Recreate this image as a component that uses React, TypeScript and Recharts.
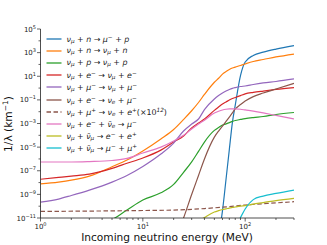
import { LineChart, Line, XAxis, YAxis, Label } from 'recharts';

// incoming neutrino energy grid (MeV)
const energy = [1, 1.5, 2, 3, 5, 7, 10, 15, 20, 25, 30, 35, 40, 50, 55, 60, 65, 70, 75, 80, 90, 100, 120, 150, 200, 300];

const n = null;
// 1/lambda (km^-1)
const nuN_muP = [n, n, n, n, n, n, n, n, n, n, n, n, n, n, 3e-13, 4e-11, 1.9e-8, 6.2e-6, 1.2e-3, 3.6e-2, 11.5, 160, 580, 1100, 2000, 3900];
const nuN_nuN = [7.6e-9, 1.1e-8, 1.6e-8, 3.5e-8, 2.2e-7, 8e-7, 4.7e-6, 4.9e-5, 3.1e-4, 2.2e-3, 1.2e-2, 6e-2, 0.29, 3.1, 6.8, 15, 25, 37, 50, 60, 81, 110, 178, 260, 430, 760];
const nuP_nuP = [n, n, n, 5e-13, 7e-12, 4.7e-11, 3.3e-10, 1.35e-9, 7e-9, 7.4e-8, 5.6e-7, 4.4e-6, 2.7e-5, 2.6e-4, 4.6e-4, 7.4e-4, 9.3e-4, 1.2e-3, 1.5e-3, 1.8e-3, 2.2e-3, 2.6e-3, 3.2e-3, 3.9e-3, 5.8e-3, 8.5e-3];
const nuE_nuE = [1.9e-8, 2.7e-8, 3.5e-8, 5.2e-8, 1.6e-7, 4.3e-7, 1.2e-6, 5.6e-6, 2.7e-5, 8.7e-5, 4.2e-4, 1.1e-3, 2.4e-3, 1.3e-2, 2.5e-2, 4.5e-2, 6.6e-2, 9.8e-2, 0.13, 0.16, 0.23, 0.32, 0.43, 0.56, 0.76, 1.1];
const nuMu_nuMu = [2.2e-10, 4e-10, 8e-10, 2.3e-9, 1.1e-8, 4e-8, 2.3e-7, 2.6e-6, 2.2e-5, 2.3e-4, 9e-4, 2.4e-3, 1.5e-2, 0.12, 0.23, 0.38, 0.56, 0.76, 0.95, 1.1, 1.35, 1.5, 2.0, 2.7, 3.6, 5.9];
const nuE_nueMu = [n, n, n, n, n, n, n, n, 8e-14, 1e-11, 9.7e-10, 4e-8, 1e-6, 7e-5, 2.3e-4, 6e-4, 1.5e-3, 3.5e-3, 7.8e-3, 1.7e-2, 4e-2, 8e-2, 0.19, 0.38, 0.83, 2.5];
const nuMuPlus_nueE = [3.6e-11, n, n, n, n, n, 4.3e-11, n, 4.7e-11, n, n, n, 6.3e-11, n, n, n, n, 9.3e-11, n, n, n, 1.26e-10, n, n, 1.9e-10, 2.4e-10];
const nuEnuebar_mu = [5.5e-7, 5.5e-7, 5.5e-7, 6e-7, 7.4e-7, 1.1e-6, 3.2e-6, 1e-5, 3.3e-5, 1e-4, 3.4e-4, 9e-4, 1.9e-3, 7.8e-3, 1.1e-2, 1.4e-2, 1.6e-2, 1.7e-2, 1.7e-2, 1.7e-2, 1.6e-2, 1.4e-2, 1.1e-2, 7.8e-3, 4.8e-3, 2.4e-3];
const nuNubar_ee = [n, n, n, n, n, n, n, n, n, n, n, 5.5e-12, 1.1e-11, 3.2e-11, 4.2e-11, 5.2e-11, 6e-11, 6.9e-11, 7.7e-11, 8.5e-11, 1e-10, 1.1e-10, 1.5e-10, 2e-10, 3e-10, 4.6e-10];
const nuNubar_mumu = [n, n, n, n, n, n, n, n, n, n, n, n, n, n, n, n, n, n, n, 1.7e-12, 1.1e-11, 5.8e-11, 3.6e-10, 7.2e-10, 1.2e-9, 2.3e-9];

const xTicks = [1, 2, 3, 4, 5, 6, 7, 8, 9, 10, 20, 30, 40, 50, 60, 70, 80, 90, 100, 200, 300];
const xMajor = [1, 10, 100];
const yTicks = [1e5, 1e4, 1e3, 1e2, 1e1, 1, 1e-1, 1e-2, 1e-3, 1e-4, 1e-5, 1e-6, 1e-7, 1e-8, 1e-9, 1e-10, 1e-11];

const Sub = ({ c }: { c: string }) => <span style={{ fontSize: '0.72em', verticalAlign: '-0.25em', fontStyle: 'italic' }}>{c}</span>;
const Sup = ({ c }: { c: string }) => <span style={{ fontSize: '0.72em', verticalAlign: '0.45em', fontStyle: 'italic' }}>{c}</span>;
const I = ({ c }: { c: string }) => <i>{c}</i>;
const Nu = ({ f, bar }: { f: string; bar?: boolean }) => <><i>{bar ? 'ν\u0304' : 'ν'}</i><Sub c={f} /></>;

const series = [
  { key: 's0', values: nuN_muP, color: '#1f77b4', label: <><Nu f="μ" /> + <I c="n" /> → <I c="μ" /><Sup c="−" /> + <I c="p" /></> },
  { key: 's1', values: nuN_nuN, color: '#ff7f0e', label: <><Nu f="μ" /> + <I c="n" /> → <Nu f="μ" /> + <I c="n" /></> },
  { key: 's2', values: nuP_nuP, color: '#2ca02c', label: <><Nu f="μ" /> + <I c="p" /> → <Nu f="μ" /> + <I c="p" /></> },
  { key: 's3', values: nuE_nuE, color: '#d62728', label: <><Nu f="μ" /> + <I c="e" /><Sup c="−" /> → <Nu f="μ" /> + <I c="e" /><Sup c="−" /></> },
  { key: 's4', values: nuMu_nuMu, color: '#9467bd', label: <><Nu f="μ" /> + <I c="μ" /><Sup c="−" /> → <Nu f="μ" /> + <I c="μ" /><Sup c="−" /></> },
  { key: 's5', values: nuE_nueMu, color: '#8c564b', label: <><Nu f="μ" /> + <I c="e" /><Sup c="−" /> → <Nu f="e" /> + <I c="μ" /><Sup c="−" /></> },
  { key: 's6', values: nuMuPlus_nueE, color: '#8c564b', dash: '4.5 2.5', label: <><Nu f="μ" /> + <I c="μ" /><Sup c="+" /> → <Nu f="e" /> + <I c="e" /><Sup c="+" />(×10<Sup c="12" />)</> },
  { key: 's7', values: nuEnuebar_mu, color: '#e377c2', label: <><Nu f="μ" /> + <I c="e" /><Sup c="−" /> + <Nu f="e" bar /> → <I c="μ" /><Sup c="−" /></> },
  { key: 's8', values: nuNubar_ee, color: '#bcbd22', label: <><Nu f="μ" /> + <Nu f="μ" bar /> → <I c="e" /><Sup c="−" /> + <I c="e" /><Sup c="+" /></> },
  { key: 's9', values: nuNubar_mumu, color: '#17becf', label: <><Nu f="μ" /> + <Nu f="μ" bar /> → <I c="μ" /><Sup c="−" /> + <I c="μ" /><Sup c="+" /></> },
];

const data = energy.map((E, i) => {
  const row: Record<string, number | null> = { E };
  series.forEach((s) => { row[s.key] = s.values[i]; });
  return row;
});

const font = '"DejaVu Sans", sans-serif';

const sup = (v: number) => {
  const e = Math.round(Math.log10(v));
  return e < 0 ? '\u2212' + Math.abs(e) : String(e);
};

const XTick = (props: any) => {
  const { x, y, payload } = props;
  const major = xMajor.includes(payload.value);
  return (
    <g>
      <line x1={x} x2={x} y1={y} y2={y + (major ? 3.5 : 2)} stroke="#222" strokeWidth={0.7} />
      {major && (
        <text x={x} y={y + 11} textAnchor="middle" fontSize={7} fontFamily={font} fill="#222">
          10<tspan dy={-3} fontSize={5}>{sup(payload.value)}</tspan>
        </text>
      )}
    </g>
  );
};

const YTick = (props: any) => {
  const { x, y, payload } = props;
  const e = Math.round(Math.log10(payload.value));
  const major = Math.abs(e) % 2 === 1;
  return (
    <g>
      <line x1={x} x2={x - (major ? 3.5 : 2)} y1={y} y2={y} stroke="#222" strokeWidth={0.7} />
      {major && (
        <text x={x - 4.5} y={y + 2.5} textAnchor="end" fontSize={7} fontFamily={font} fill="#222">
          10<tspan dy={-3} fontSize={5}>{sup(payload.value)}</tspan>
        </text>
      )}
    </g>
  );
};

const LegendBox = () => (
  <div style={{ position: 'absolute', left: 45, top: 32.5, fontFamily: font, fontSize: 7.9, color: '#222', pointerEvents: 'none' }}>
    {series.map((s) => (
      <div key={s.key} style={{ height: 12.2, display: 'flex', alignItems: 'center', whiteSpace: 'nowrap' }}>
        <svg width={20} height={6} style={{ marginRight: 1.5 }}>
          <line x1={1.5} x2={16.5} y1={3} y2={3} stroke={s.color} strokeWidth={1.3} strokeDasharray={s.dash} />
        </svg>
        <span>{s.label}</span>
      </div>
    ))}
  </div>
);

export default function App() {
  return (
    <div style={{ position: 'absolute', left: 0, top: 0, width: 327, height: 245, background: '#fff' }}>
      <LineChart width={327} height={245} data={data} margin={{ top: 29, right: 33, left: 0, bottom: 0 }}>
        <XAxis
          dataKey="E"
          type="number"
          scale="log"
          domain={[1, 300]}
          allowDataOverflow
          ticks={xTicks}
          interval={0}
          height={27}
          tickSize={0}
          tickMargin={0}
          tickLine={false}
          tick={XTick}
          axisLine={{ stroke: '#222', strokeWidth: 0.8 }}
        >
          <Label
            content={() => (
              <text x={167} y={241} textAnchor="middle" fontSize={10.6} fontFamily={font} fill="#111">
                Incoming neutrino energy (MeV)
              </text>
            )}
          />
        </XAxis>
        <XAxis xAxisId="top" orientation="top" dataKey="E" type="number" scale="log" domain={[1, 300]} allowDataOverflow height={0} tick={false} tickLine={false} axisLine={{ stroke: '#222', strokeWidth: 0.8 }} />
        <YAxis
          type="number"
          scale="log"
          domain={[1e-11, 1e5]}
          allowDataOverflow
          ticks={yTicks}
          interval={0}
          width={40.5}
          tickSize={0}
          tickMargin={0}
          tickLine={false}
          tick={YTick}
          axisLine={{ stroke: '#222', strokeWidth: 0.8 }}
        >
          <Label
            content={() => (
              <text x={12} y={124} transform="rotate(-90, 12, 124)" textAnchor="middle" fontSize={10.6} fontFamily={font} fill="#111">
                1/λ (km<tspan dy={-4} fontSize={7.5}>−1</tspan><tspan dy={4}>)</tspan>
              </text>
            )}
          />
        </YAxis>
        <YAxis yAxisId="right" orientation="right" type="number" scale="log" domain={[1e-11, 1e5]} allowDataOverflow width={0} tick={false} tickLine={false} axisLine={{ stroke: '#222', strokeWidth: 0.8 }} />
        {series.map((s) => (
          <Line
            key={s.key}
            dataKey={s.key}
            type="monotone"
            stroke={s.color}
            strokeWidth={1.2}
            strokeDasharray={s.dash}
            dot={false}
            connectNulls
            isAnimationActive={false}
          />
        ))}
      </LineChart>
      <LegendBox />
    </div>
  );
}
